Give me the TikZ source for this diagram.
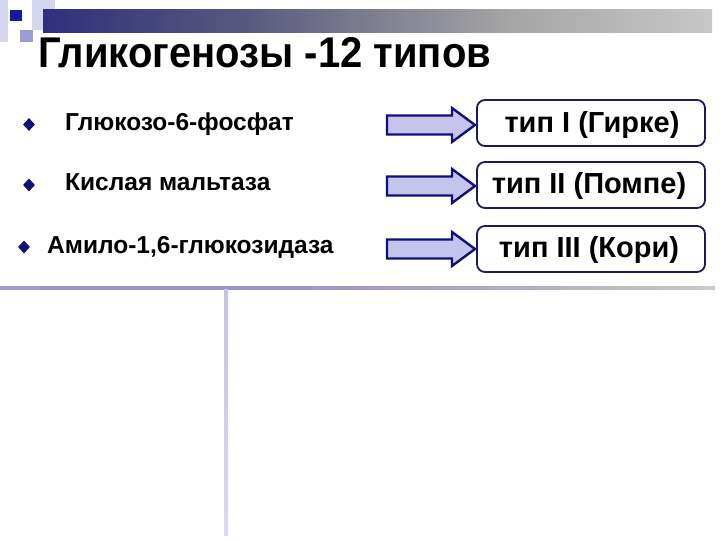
\documentclass[tikz,border=0pt]{standalone}
\usepackage{fontspec}
\setmainfont{Liberation Sans}
\usetikzlibrary{shapes.geometric}
\definecolor{navy}{HTML}{10107A}
\definecolor{arrowfill}{HTML}{C4C4EC}
\definecolor{boxline}{HTML}{1A1A5E}
\definecolor{sqlight}{HTML}{D6D6EE}
\definecolor{sqmid}{HTML}{9C9CD4}
\definecolor{sqdark}{HTML}{1818A0}
\pgfdeclarehorizontalshading{barshade}{100bp}{color(0bp)=(navy); color(22bp)=(navy!80!gray); color(40bp)=(navy!35!gray); color(60bp)=(gray!70); color(80bp)=(gray!35); color(100bp)=(white)}
\pgfdeclarehorizontalshading{lineshade}{100bp}{color(0bp)=(sqmid); color(45bp)=(sqmid!80!gray); color(70bp)=(gray!50); color(100bp)=(white)}
\pgfdeclareverticalshading{vlineshade}{100bp}{color(0bp)=(white); color(30bp)=(sqlight); color(100bp)=(sqmid!70!white)}
\begin{document}
\begin{tikzpicture}[x=1pt,y=-1pt,
  bullet/.style={shape=diamond,fill=navy,inner sep=0pt,minimum width=12pt,minimum height=13pt},
  itemtext/.style={anchor=base west,font=\fontsize{24.5}{28}\selectfont\bfseries,inner sep=0pt},
  typebox/.style={draw=boxline,line width=1.8pt,rounded corners=8pt,fill=white,minimum width=228pt,minimum height=46pt,inner sep=0pt},
  boxtext/.style={anchor=base,inner sep=0pt,font=\fontsize{29}{34}\selectfont\bfseries},
  arrowstyle/.style={draw=navy,fill=arrowfill,line width=2.4pt,line join=miter},
  blockarr/.pic={\path[arrowstyle] (0,-9.5)--(65,-9.5)--(65,-17)--(88,0)--(65,17)--(65,9.5)--(0,9.5)--cycle;}
]
\useasboundingbox (0,0) rectangle (720,540);
\fill[white] (0,0) rectangle (720,540);
% header decoration
\fill[sqlight] (0,0) rectangle (8,42);
\fill[sqlight] (32,0) rectangle (55,30);
\shade[shading=barshade] (43,10) rectangle (712,33);
\fill[sqdark] (10,10) rectangle (22,21);
\fill[sqmid] (20,30) rectangle (33,42);
% title
\node[anchor=base west,inner sep=0pt,xscale=0.93,font=\fontsize{43}{50}\selectfont\bfseries] (title) at (38,68) {Гликогенозы -12 типов};
% bullets and items
\node[bullet] (b1) at (29,124.5) {};
\node[bullet] (b2) at (29,185) {};
\node[bullet] (b3) at (24,247) {};
\node[itemtext] (i1) at (65,131) {Глюкозо-6-фосфат};
\node[itemtext] (i2) at (65,191) {Кислая мальтаза};
\node[itemtext] (i3) at (47,253) {Амило-1,6-глюкозидаза};
% arrows
\pic (a1) at (387,125) {blockarr};
\pic (a2) at (387,186) {blockarr};
\pic (a3) at (387,249) {blockarr};
% type boxes
\node[typebox] (t1) at (591,123) {};
\node[typebox] (t2) at (591,185) {};
\node[typebox] (t3) at (591,249) {};
\node[boxtext] (l1) at (592,133) {тип I (Гирке)};
\node[boxtext] (l2) at (589,194) {тип II (Помпе)};
\node[boxtext] (l3) at (589,258) {тип III (Кори)};
% lower lines
\shade[shading=lineshade] (0,286.5) rectangle (715,289.5);
\shade[shading=vlineshade] (224,289) rectangle (228,535);
\end{tikzpicture}
\end{document}
